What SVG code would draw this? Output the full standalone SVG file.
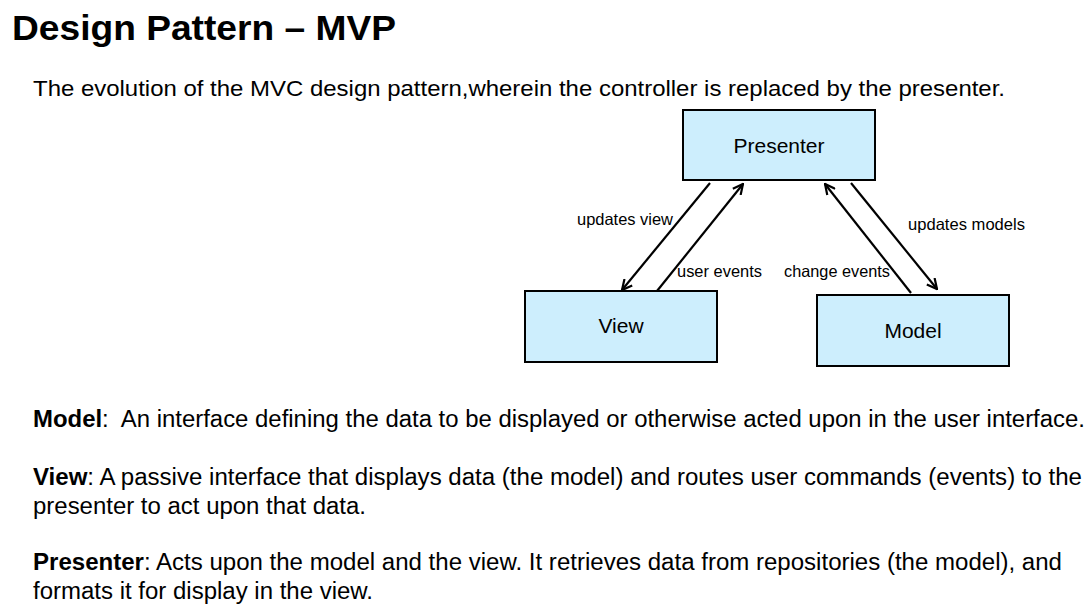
<svg xmlns="http://www.w3.org/2000/svg" width="1092" height="605" viewBox="0 0 1092 605">
<style>
text{font-family:"Liberation Sans",Arial,sans-serif;fill:#000}
.box{fill:#cdeefd;stroke:#000;stroke-width:2}
.lbl{font-size:21px;text-anchor:middle}
.edge{font-size:16.5px}
.body{font-size:23px}
.conn line{stroke:#000;stroke-width:2.2}
</style>
<defs>
<marker id="ah" viewBox="0 0 12 12" refX="11" refY="6" markerWidth="12" markerHeight="12" markerUnits="userSpaceOnUse" orient="auto">
<polyline points="1,1 11,6 1,11" fill="none" stroke="#000" stroke-width="2.2"/>
</marker>
</defs>
<rect width="1092" height="605" fill="#fff"/>
<text x="12" y="40" font-size="35" font-weight="bold" textLength="384" lengthAdjust="spacingAndGlyphs">Design Pattern – MVP</text>
<text x="33" y="96" font-size="22" textLength="972" lengthAdjust="spacingAndGlyphs">The evolution of the MVC design pattern,wherein the controller is replaced by the presenter.</text>
<g id="presenter"><rect class="box" x="683" y="110" width="192" height="70"/><text class="lbl" x="779" y="153">Presenter</text></g>
<g id="view"><rect class="box" x="525" y="291" width="192" height="71"/><text class="lbl" x="621" y="333">View</text></g>
<g id="model"><rect class="box" x="817" y="295" width="192" height="71"/><text class="lbl" x="913" y="338">Model</text></g>
<g class="conn" id="connectors">
<line x1="710" y1="183" x2="622" y2="290" marker-end="url(#ah)"/>
<line x1="657" y1="291" x2="743" y2="184" marker-end="url(#ah)"/>
<line x1="911" y1="293" x2="825" y2="184" marker-end="url(#ah)"/>
<line x1="851" y1="183" x2="937" y2="289" marker-end="url(#ah)"/>
<text class="edge" x="577" y="225" textLength="96" lengthAdjust="spacingAndGlyphs">updates view</text>
<text class="edge" x="677" y="277" textLength="85" lengthAdjust="spacingAndGlyphs">user events</text>
<text class="edge" x="784" y="277" textLength="106" lengthAdjust="spacingAndGlyphs">change events</text>
<text class="edge" x="908" y="230" textLength="117" lengthAdjust="spacingAndGlyphs">updates models</text>
</g>
<text class="body" x="33" y="427" textLength="1052" lengthAdjust="spacingAndGlyphs"><tspan font-weight="bold">Model</tspan>:&#160; An interface defining the data to be displayed or otherwise acted upon in the user interface.</text>
<text class="body" x="33" y="485" textLength="1049" lengthAdjust="spacingAndGlyphs"><tspan font-weight="bold">View</tspan>: A passive interface that displays data (the model) and routes user commands (events) to the</text>
<text class="body" x="33" y="514" textLength="333" lengthAdjust="spacingAndGlyphs">presenter to act upon that data.</text>
<text class="body" x="33" y="570" textLength="1029" lengthAdjust="spacingAndGlyphs"><tspan font-weight="bold">Presenter</tspan>: Acts upon the model and the view. It retrieves data from repositories (the model), and</text>
<text class="body" x="33" y="599" textLength="340" lengthAdjust="spacingAndGlyphs">formats it for display in the view.</text>
</svg>
